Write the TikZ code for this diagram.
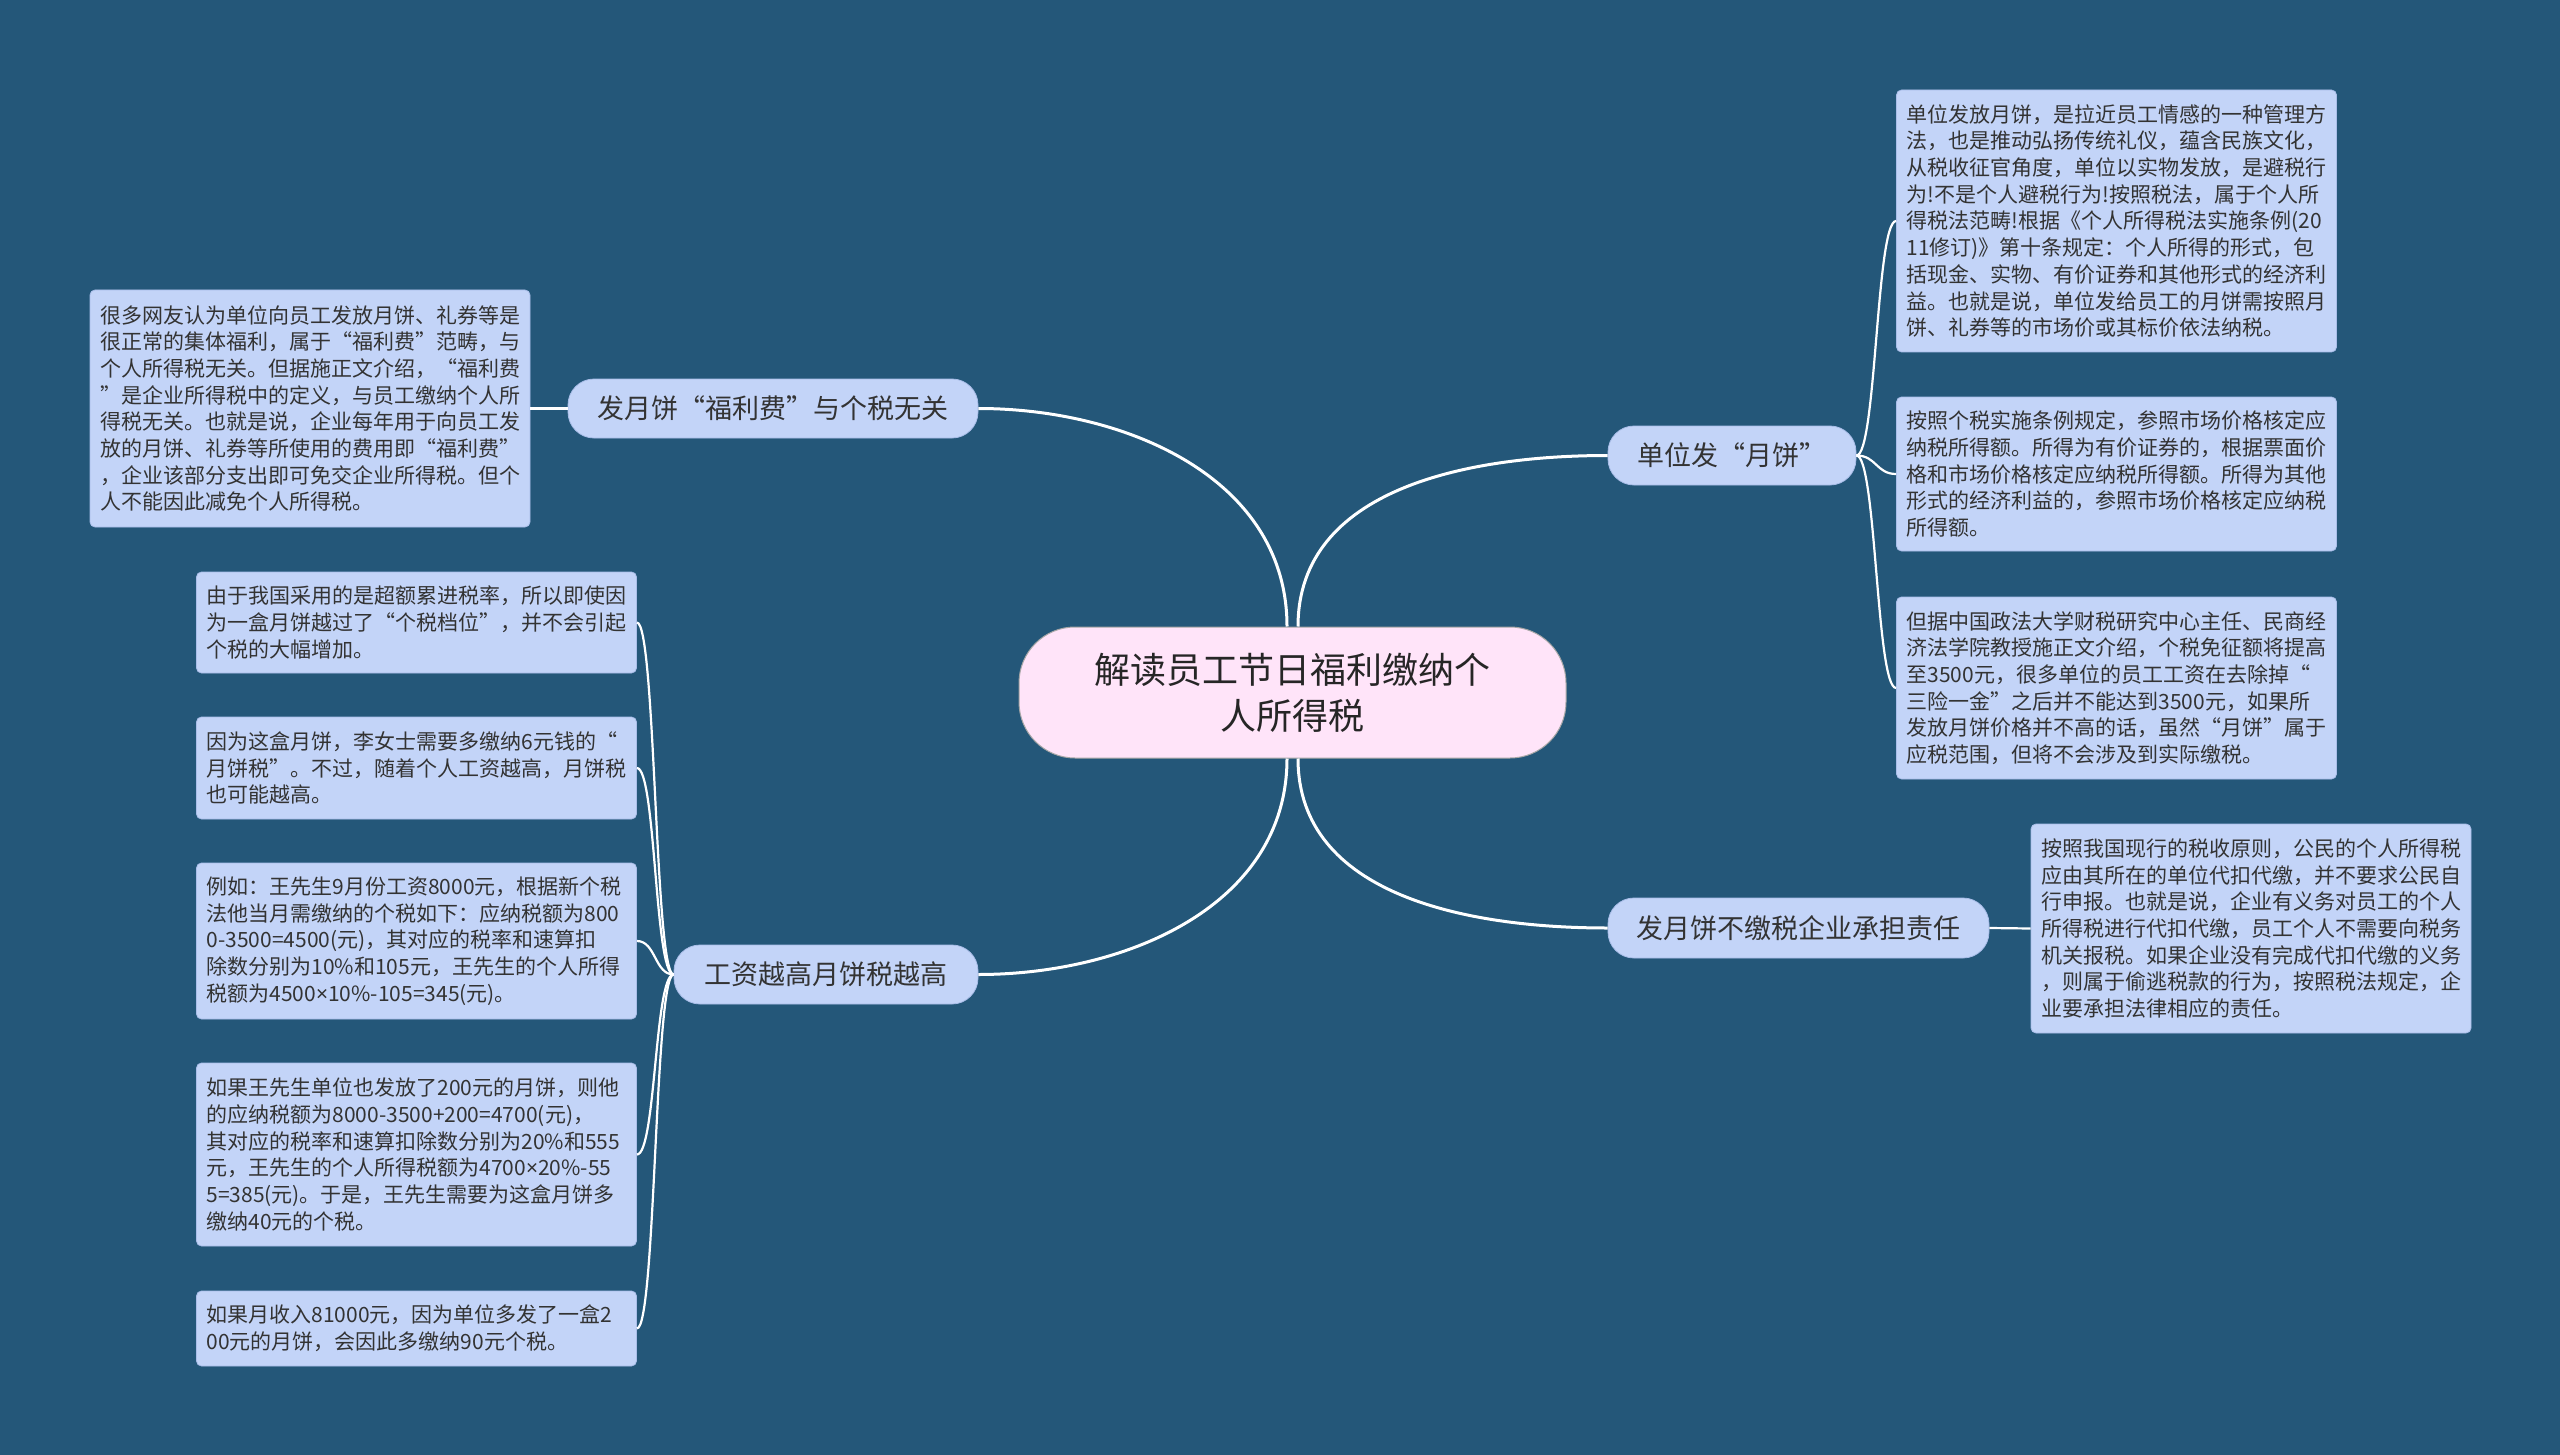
\documentclass[tikz,border=0pt]{standalone}
\usepackage{fontspec}
\setmainfont{Noto Sans CJK SC}
\newfontfamily\latinfont{Noto Sans}
\newcommand\zqo{\makebox[1em][r]{“}}
\newcommand\zqc{\makebox[1em][l]{”}}
\newcommand\ztimes{{\latinfont ×}}
\definecolor{bg}{HTML}{245779}
\definecolor{leaf}{HTML}{C3D4F8}
\definecolor{leafedge}{HTML}{A9BDE8}
\definecolor{cfill}{HTML}{FFE4F9}
\definecolor{txt}{HTML}{333333}
\begin{document}
\begin{tikzpicture}[x=0.5pt,y=-0.5pt,
 leafbox/.style={draw=leafedge, line width=0.4pt, fill=leaf, rounded corners=2.5pt, text width=210pt, align=left, inner xsep=5pt, inner ysep=0pt, text=txt, font=\fontsize{10.5pt}{13.35pt}\selectfont},
 branchbox/.style={fill=leaf, draw=leafedge, line width=0.4pt, rounded corners=13pt, inner sep=0pt, minimum height=29.5pt, text=txt, font=\fontsize{13.5pt}{16pt}\selectfont},
 centerbox/.style={fill=cfill, draw=gray!70, line width=0.5pt, rounded corners=28pt, minimum width=273.5pt, minimum height=65.5pt, align=center, inner sep=0pt, text=black!85, font=\fontsize{18pt}{23pt}\selectfont},
 conn/.style={draw=white, line width=1.5pt},
 subconn/.style={draw=white, line width=1.1pt}]
\useasboundingbox (0,0) rectangle (2560,1455);
\fill[bg] (0,0) rectangle (2560,1455);

% center
\node[centerbox] (c) at (1292.5,692.5) {解读员工节日福利缴纳个\\人所得税};

% branches
\node[branchbox, minimum width=205pt] (b1) at (773,408.5) {发月饼\zqo 福利费\zqc 与个税无关};
\node[branchbox, minimum width=124pt] (b2) at (1732,455.5) {单位发\zqo 月饼”};
\node[branchbox, minimum width=152pt] (b3) at (826,974.5) {工资越高月饼税越高};
\node[branchbox, minimum width=190.5pt, minimum height=30pt] (b4) at (1798.5,928) {发月饼不缴税企业承担责任};

\draw[conn] ([xshift=-2.75pt]c.north) to[out=90,in=0] (b1.east);
\draw[conn] ([xshift=2.75pt]c.north) to[out=90,in=180] (b2.west);
\draw[conn] ([xshift=-2.75pt]c.south) to[out=270,in=0] (b3.east);
\draw[conn] ([xshift=2.75pt]c.south) to[out=270,in=180] (b4.west);

% left top leaf
\node[leafbox, minimum height=118.5pt] (lt) at (310,408.5) {很多网友认为单位向员工发放月饼、礼券等是\\
很正常的集体福利，属于\zqo 福利费\zqc 范畴，与\\
个人所得税无关。但据施正文介绍，\zqo 福利费\\
\zqc 是企业所得税中的定义，与员工缴纳个人所\\
得税无关。也就是说，企业每年用于向员工发\\
放的月饼、礼券等所使用的费用即\zqo 福利费\zqc\\
，企业该部分支出即可免交企业所得税。但个\\
人不能因此减免个人所得税。};
\draw[subconn] (b1.west) -- (lt.east);

% right leaves
\node[leafbox, minimum height=131pt] (r1) at (2116.5,221) {单位发放月饼，是拉近员工情感的一种管理方\\
法，也是推动弘扬传统礼仪，蕴含民族文化，\\
从税收征官角度，单位以实物发放，是避税行\\
为!不是个人避税行为!按照税法，属于个人所\\
得税法范畴!根据《个人所得税法实施条例(20\\
11修订)》第十条规定：个人所得的形式，包\\
括现金、实物、有价证券和其他形式的经济利\\
益。也就是说，单位发给员工的月饼需按照月\\
饼、礼券等的市场价或其标价依法纳税。};
\node[leafbox, minimum height=77pt] (r2) at (2116.5,474) {按照个税实施条例规定，参照市场价格核定应\\
纳税所得额。所得为有价证券的，根据票面价\\
格和市场价格核定应纳税所得额。所得为其他\\
形式的经济利益的，参照市场价格核定应纳税\\
所得额。};
\node[leafbox, minimum height=91pt] (r3) at (2116.5,688) {但据中国政法大学财税研究中心主任、民商经\\
济法学院教授施正文介绍，个税免征额将提高\\
至3500元，很多单位的员工工资在去除掉\zqo\\
三险一金\zqc 之后并不能达到3500元，如果所\\
发放月饼价格并不高的话，虽然\zqo 月饼\zqc 属于\\
应税范围，但将不会涉及到实际缴税。};
\draw[subconn] (b2.east) .. controls +(20,0) and +(-20,0) .. (r1.west);
\draw[subconn] (b2.east) .. controls +(20,0) and +(-20,0) .. (r2.west);
\draw[subconn] (b2.east) .. controls +(20,0) and +(-20,0) .. (r3.west);

\node[leafbox, minimum height=104.5pt] (r4) at (2251,928.5) {按照我国现行的税收原则，公民的个人所得税\\
应由其所在的单位代扣代缴，并不要求公民自\\
行申报。也就是说，企业有义务对员工的个人\\
所得税进行代扣代缴，员工个人不需要向税务\\
机关报税。如果企业没有完成代扣代缴的义务\\
，则属于偷逃税款的行为，按照税法规定，企\\
业要承担法律相应的责任。};
\draw[subconn] (b4.east) -- (r4.west);

% left leaves
\node[leafbox, minimum height=50.5pt] (l1) at (416.5,622.5) {由于我国采用的是超额累进税率，所以即使因\\
为一盒月饼越过了\zqo 个税档位\zqc ，并不会引起\\
个税的大幅增加。};
\node[leafbox, minimum height=51pt] (l2) at (416.5,768) {因为这盒月饼，李女士需要多缴纳6元钱的\zqo\\
月饼税\zqc 。不过，随着个人工资越高，月饼税\\
也可能越高。};
\node[leafbox, minimum height=78pt] (l3) at (416.5,941) {例如：王先生9月份工资8000元，根据新个税\\
法他当月需缴纳的个税如下：应纳税额为800\\
0-3500=4500(元)，其对应的税率和速算扣\\
除数分别为10\%和105元，王先生的个人所得\\
税额为4500\ztimes 10\%-105=345(元)。};
\node[leafbox, minimum height=91.5pt] (l4) at (416.5,1154.5) {如果王先生单位也发放了200元的月饼，则他\\
的应纳税额为8000-3500+200=4700(元)，\\
其对应的税率和速算扣除数分别为20\%和555\\
元，王先生的个人所得税额为4700\ztimes 20\%-55\\
5=385(元)。于是，王先生需要为这盒月饼多\\
缴纳40元的个税。};
\node[leafbox, minimum height=37.5pt] (l5) at (416.5,1328.5) {如果月收入81000元，因为单位多发了一盒2\\
00元的月饼，会因此多缴纳90元个税。};
\foreach \n in {l1,l2,l3,l4,l5}
  \draw[subconn] (b3.west) .. controls +(-19,0) and +(19,0) .. (\n.east);
\end{tikzpicture}
\end{document}
